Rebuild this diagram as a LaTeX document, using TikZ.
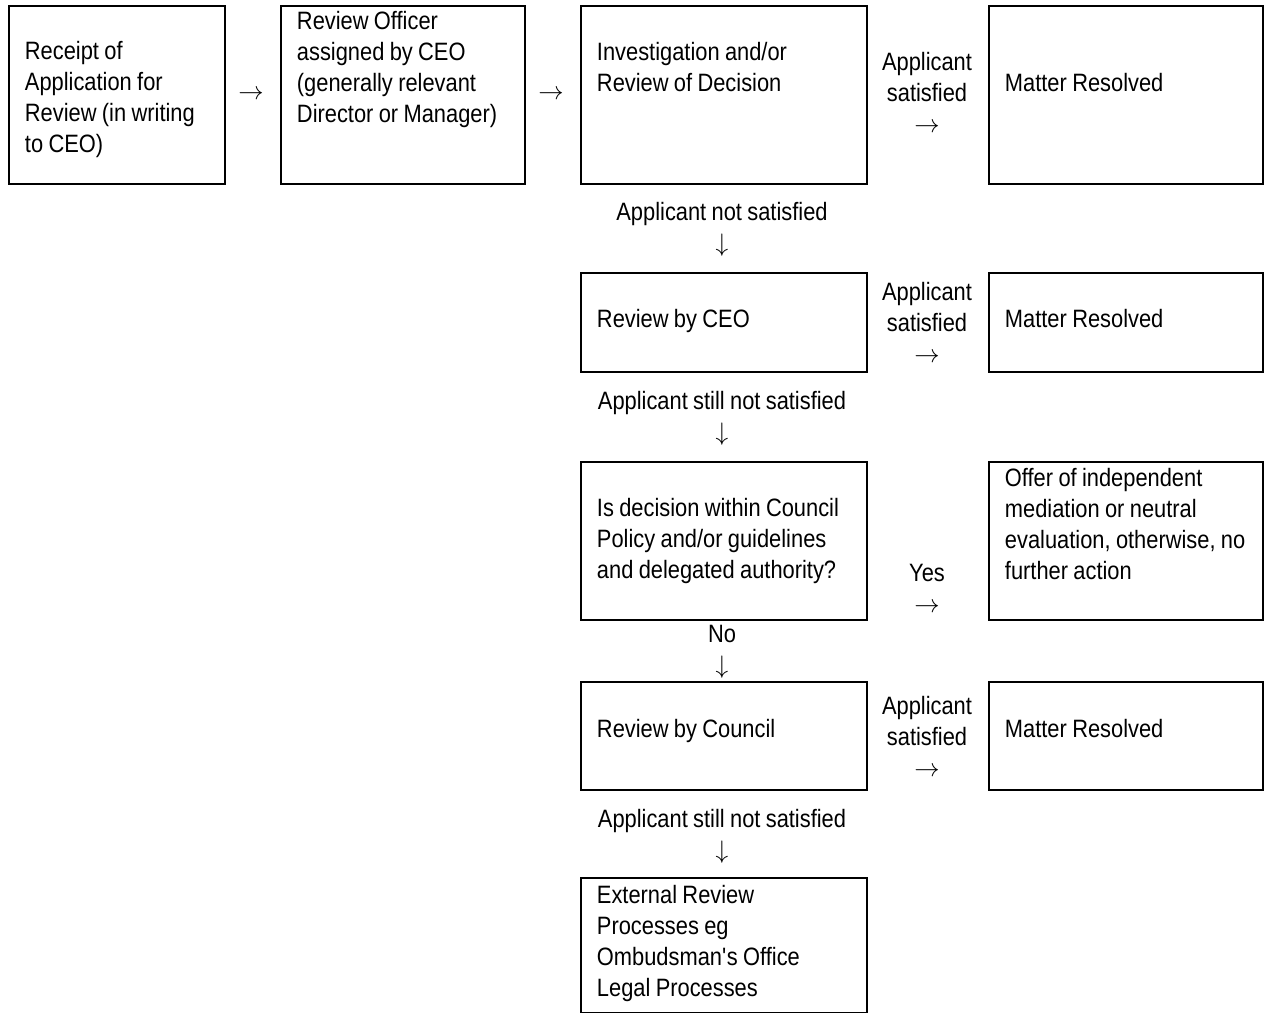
\documentclass[tikz,border=0pt]{standalone}
\usepackage{fontspec}
\setmainfont[FakeStretch=0.87, WordSpace=0.88]{Liberation Sans}
\usetikzlibrary{positioning}

\begin{document}
\begin{tikzpicture}[
    x=0.02cm, y=-0.02cm,
    font=\fontsize{14.3pt}{17.6pt}\selectfont,
    stage/.style={rectangle, draw, line width=1.1pt, anchor=north west, align=flush left, inner xsep=0.32cm, inner ysep=0pt},
    note/.style={align=center, inner sep=0pt}
]
\useasboundingbox (0,0) rectangle (1267,1013);

% First row
\node[stage, text width=3.68cm, text height=1.08cm, text depth=2.48cm] (receipt) at (8,5) {Receipt of\\Application for\\Review (in writing\\to CEO)};
\node[stage, text width=4.24cm, text height=0.48cm, text depth=3.08cm] (officer) at (280,5) {Review Officer\\assigned by CEO\\(generally relevant\\Director or Manager)};
\node[stage, text width=5.08cm, text height=1.10cm, text depth=2.46cm] (investigate) at (580,5) {Investigation and/or\\Review of Decision};
\node[stage, text width=4.84cm, text height=1.72cm, text depth=1.84cm] (resolvedA) at (988,5) {Matter Resolved};

% Second row
\node[stage, text width=5.08cm, text height=1.10cm, text depth=0.88cm] (ceo) at (580,272) {Review by CEO};
\node[stage, text width=4.84cm, text height=1.10cm, text depth=0.88cm] (resolvedB) at (988,272) {Matter Resolved};

% Third row
\node[stage, text width=5.08cm, text height=1.10cm, text depth=2.06cm] (decision) at (580,461) {Is decision within Council\\Policy and/or guidelines\\and delegated authority?};
\node[stage, text width=4.84cm, text height=0.50cm, text depth=2.66cm] (offer) at (988,461) {Offer of independent\\mediation or neutral\\evaluation, otherwise, no\\further action};

% Fourth row
\node[stage, text width=5.08cm, text height=1.12cm, text depth=1.04cm] (council) at (580,681) {Review by Council};
\node[stage, text width=4.84cm, text height=1.12cm, text depth=1.04cm] (resolvedC) at (988,681) {Matter Resolved};

% Last row
\node[stage, text width=5.08cm, text height=0.52cm, text depth=2.18cm] (external) at (580,877) {External Review\\Processes eg\\Ombudsman\textquotesingle s Office\\Legal Processes};

% Arrow labels
\node[note] (toOfficer) at (251,95) {$\rightarrow$};
\node[note] (toInvestigate) at (551,95) {$\rightarrow$};
\node[note] (satA) at (927,92) {Applicant\\satisfied\\$\rightarrow$};
\node[note] (satB) at (927,322) {Applicant\\satisfied\\$\rightarrow$};
\node[note] (yes) at (927,588) {Yes\\$\rightarrow$};
\node[note] (satC) at (927,736) {Applicant\\satisfied\\$\rightarrow$};
\node[note] (notsatA) at (722,229) {Applicant not satisfied\\$\downarrow$};
\node[note] (notsatB) at (722,418) {Applicant still not satisfied\\$\downarrow$};
\node[note] (no) at (722,652) {No\\$\downarrow$};
\node[note] (notsatC) at (722,836) {Applicant still not satisfied\\$\downarrow$};

\end{tikzpicture}
\end{document}
